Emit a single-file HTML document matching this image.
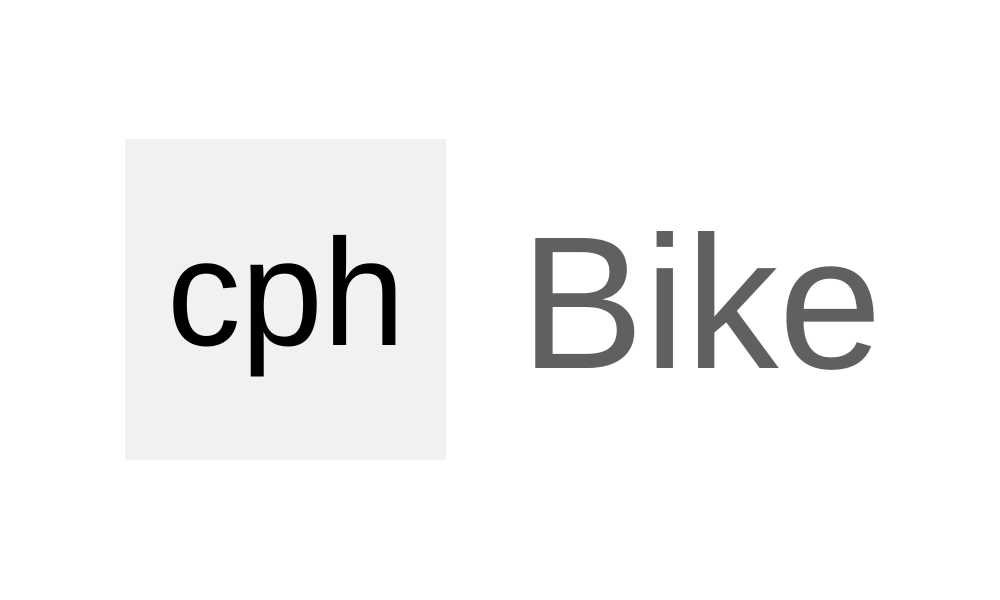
<!DOCTYPE html>
<html><head><meta charset="utf-8"><style>html,body{margin:0;padding:0;background:#fff;width:1000px;height:600px;overflow:hidden}</style></head>
<body>
<svg width="1000" height="600" viewBox="0 0 1000 600" xmlns="http://www.w3.org/2000/svg">
<rect x="0" y="0" width="1000" height="600" fill="#fff"/>
<rect x="125" y="139" width="321" height="321" fill="#f1f1f1"/>
<text x="167" y="345" font-family="Liberation Sans, sans-serif" font-size="152" fill="#000" textLength="238" lengthAdjust="spacingAndGlyphs">cph</text>
<text x="520" y="368" font-family="Liberation Sans, sans-serif" font-size="189" fill="#606060" textLength="362" lengthAdjust="spacingAndGlyphs">Bike</text>
</svg>
</body></html>
